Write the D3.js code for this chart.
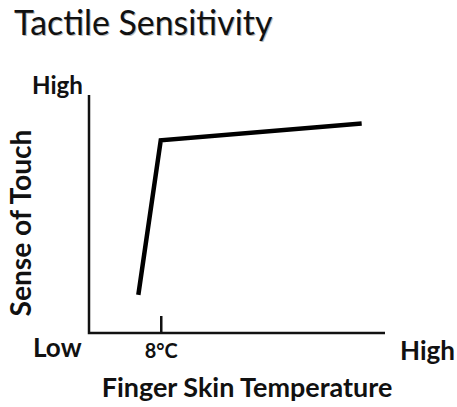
<!DOCTYPE html>
<html><head><meta charset="utf-8">
<script src="https://cdn.jsdelivr.net/npm/d3@7"></script>
<style>body{margin:0;background:#fff}svg{display:block}text{font-family:Lato,"Open Sans",sans-serif}</style>
</head><body>
<script>
const title = "Tactile Sensitivity";
const xLabel = "Finger Skin Temperature";
const yLabel = "Sense of Touch";
const xEndLabels = ["Low", "High"];
const yTopLabel = "High";
const tickValues = [8];
const tickLabels = ["8°C"];
const temps = [5.5, 8, 30.4];
const touch = [0.16, 0.81, 0.88];

const W = 457, H = 407;
const svg = d3.select("body").append("svg").attr("width", W).attr("height", H);
const x = d3.scaleLinear().domain([0, 33]).range([89, 385]);
const y = d3.scaleLinear().domain([0, 1]).range([333, 95]);

function fit(sel, target) {
  const w = sel.node().getBBox().width;
  const fs = parseFloat(sel.attr("font-size"));
  sel.attr("font-size", fs * target / w);
}

// title with light shadow
const t2 = svg.append("text").attr("x", 15).attr("y", 36).attr("font-size", 32).attr("fill", "#bbb").text(title);
fit(t2, 259);
const t = svg.append("text").attr("x", 14).attr("y", 35).attr("font-size", 32).attr("fill", "#111").text(title);
fit(t, 259);

// axes
svg.append("path").attr("d", `M${x(0)},${y(1)}V${y(0)}H${x(33)}`)
  .attr("fill", "none").attr("stroke", "#111").attr("stroke-width", 2.5);
const xAxis = d3.axisBottom(x).tickValues(tickValues).tickFormat((d, i) => tickLabels[i]).tickSize(-17).tickSizeOuter(0);
const ga = svg.append("g").attr("transform", `translate(0,${y(0)})`).call(xAxis);
ga.select(".domain").remove();
ga.selectAll(".tick line").attr("stroke", "#111").attr("stroke-width", 2.5);
ga.selectAll(".tick text").attr("font-family", "Lato").attr("font-weight", "bold").attr("font-size", 20)
  .attr("fill", "#111").attr("y", 25).attr("dy", 0).each(function(){ fit(d3.select(this), 33); });

// line
const line = d3.line().x((d, i) => x(temps[i])).y(d => y(d));
svg.append("path").datum(touch).attr("d", line).attr("fill", "none")
  .attr("stroke", "#000").attr("stroke-width", 4.5).attr("stroke-linejoin", "miter");

// labels
const bold = s => s.attr("font-weight", "bold").attr("fill", "#111");
const hi = bold(svg.append("text").attr("x", 32).attr("y", 94).attr("font-size", 22).text(yTopLabel)); fit(hi, 51);
const lo = bold(svg.append("text").attr("x", 33).attr("y", 357).attr("font-size", 22).text(xEndLabels[0])); fit(lo, 49);
const hr = bold(svg.append("text").attr("x", 400).attr("y", 360).attr("font-size", 22).text(xEndLabels[1])); fit(hr, 55);
const xl = bold(svg.append("text").attr("x", 247).attr("y", 397).attr("text-anchor", "middle").attr("font-size", 22).text(xLabel)); fit(xl, 291);
const yl = bold(svg.append("text").attr("transform", "translate(31,223) rotate(-90)").attr("text-anchor", "middle").attr("font-size", 22).text(yLabel)); fit(yl, 187);
</script>
</body></html>
